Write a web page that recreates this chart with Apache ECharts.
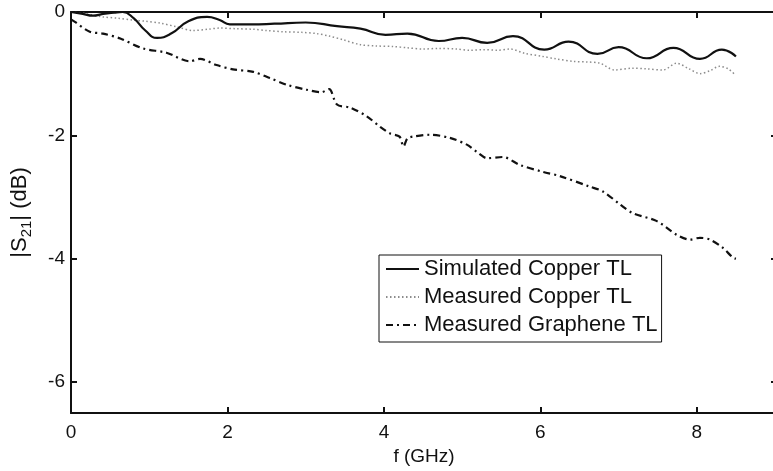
<!DOCTYPE html>
<html>
<head>
<meta charset="utf-8">
<script src="https://cdn.jsdelivr.net/npm/echarts@6/dist/echarts.min.js"></script>
<style>
  html, body { margin: 0; padding: 0; background: #ffffff; }
  #chart { width: 773px; height: 471px; }
</style>
</head>
<body>
<div id="chart"></div>
<script>
// Transmission |S21| versus frequency for the copper and graphene lines

const seriesNames = ['Simulated Copper TL', 'Measured Copper TL', 'Measured Graphene TL'];

// Simulated copper line
const simFreq = [0, 0.15, 0.28, 0.41, 0.55, 0.66, 0.8, 0.95, 1.1, 1.28, 1.5, 1.74, 1.9, 2.03, 2.3, 2.6, 3.0, 3.4, 3.7, 4.02, 4.3, 4.7, 5.0, 5.32, 5.65, 6.05, 6.36, 6.73, 7.0, 7.36, 7.7, 8.04, 8.32, 8.5];
const simS21  = [0, -0.03, -0.06, -0.03, -0.01, 0, -0.1, -0.3, -0.42, -0.35, -0.15, -0.08, -0.13, -0.2, -0.2, -0.19, -0.17, -0.23, -0.27, -0.37, -0.35, -0.47, -0.42, -0.5, -0.39, -0.61, -0.48, -0.68, -0.57, -0.75, -0.58, -0.76, -0.61, -0.72];

// Measured copper line
const cuFreq = [0, 0.2, 0.41, 0.6, 0.79, 0.95, 1.14, 1.35, 1.56, 1.75, 1.9, 2.1, 2.33, 2.5, 2.71, 2.95, 3.14, 3.3, 3.48, 3.7, 3.9, 4.12, 4.3, 4.5, 4.7, 4.93, 5.1, 5.27, 5.45, 5.61, 5.8, 6.03, 6.2, 6.42, 6.6, 6.76, 6.95, 7.18, 7.35, 7.57, 7.74, 7.9, 8.04, 8.17, 8.29, 8.4, 8.49];
const cuS21  = [0, -0.03, -0.08, -0.1, -0.13, -0.15, -0.18, -0.24, -0.3, -0.28, -0.26, -0.27, -0.28, -0.3, -0.32, -0.33, -0.35, -0.39, -0.45, -0.53, -0.55, -0.56, -0.58, -0.6, -0.59, -0.6, -0.62, -0.61, -0.62, -0.6, -0.67, -0.72, -0.76, -0.8, -0.81, -0.83, -0.94, -0.91, -0.92, -0.94, -0.83, -0.92, -1.0, -0.95, -0.88, -0.92, -1.02];

// Measured graphene line
const grFreq = [0, 0.05, 0.24, 0.41, 0.63, 0.92, 1.22, 1.52, 1.65, 1.86, 2.07, 2.33, 2.54, 2.76, 3.01, 3.2, 3.3, 3.4, 3.57, 3.78, 3.95, 4.08, 4.2, 4.25, 4.3, 4.37, 4.59, 4.84, 5.06, 5.2, 5.32, 5.52, 5.74, 6.03, 6.25, 6.63, 6.8, 7.02, 7.18, 7.49, 7.74, 7.91, 8.04, 8.17, 8.33, 8.46, 8.5];
const grS21  = [-0.12, -0.16, -0.32, -0.35, -0.43, -0.59, -0.66, -0.8, -0.76, -0.86, -0.93, -0.97, -1.07, -1.18, -1.26, -1.3, -1.25, -1.5, -1.55, -1.69, -1.86, -1.97, -2.02, -2.18, -2.05, -2.02, -1.99, -2.04, -2.15, -2.28, -2.37, -2.35, -2.48, -2.59, -2.66, -2.83, -2.91, -3.12, -3.26, -3.39, -3.61, -3.69, -3.66, -3.69, -3.82, -3.98, -4.0];

const xTicks = [0, 2, 4, 6, 8];
const yTicks = [0, -2, -4, -6];

function pairs(xs, ys) {
  return xs.map((x, i) => [x, ys[i]]);
}

const FONT = 'Liberation Sans, Arial, Helvetica, sans-serif';
const axisLineStyle = { color: '#111', width: 2 };

const chart = echarts.init(document.getElementById('chart'), null, { renderer: 'canvas' });

chart.setOption({
  animation: false,
  backgroundColor: '#ffffff',
  textStyle: { fontFamily: FONT },
  grid: { left: 71, top: 12, width: 706, height: 401, containLabel: false, outerBoundsMode: 'none' },
  xAxis: [
    {
      type: 'value', min: 0, max: 9.025, position: 'bottom',
      name: 'f (GHz)', nameLocation: 'middle', nameGap: 30,
      nameTextStyle: { fontSize: 19, color: '#111', fontFamily: FONT },
      axisLine: { show: true, onZero: false, lineStyle: axisLineStyle },
      axisTick: { show: true, inside: true, length: 6, lineStyle: axisLineStyle, customValues: xTicks },
      axisLabel: { fontSize: 19, color: '#111', margin: 10, fontFamily: FONT, customValues: xTicks },
      splitLine: { show: false }
    },
    {
      type: 'value', min: 0, max: 9.025, position: 'top',
      axisLine: { show: true, onZero: false, lineStyle: axisLineStyle },
      axisTick: { show: true, inside: true, length: 6, lineStyle: axisLineStyle, customValues: xTicks },
      axisLabel: { show: false },
      splitLine: { show: false }
    }
  ],
  yAxis: [
    {
      type: 'value', min: -6.5, max: 0, position: 'left',
      name: '|S{sub|21}| (dB)', nameLocation: 'middle', nameGap: 37, nameRotate: 90,
      nameTextStyle: {
        fontSize: 22, color: '#111', fontFamily: FONT,
        rich: { sub: { fontSize: 15, color: '#111', fontFamily: FONT, verticalAlign: 'bottom', padding: [13, 0, 0, 0] } }
      },
      axisLine: { show: true, onZero: false, lineStyle: axisLineStyle },
      axisTick: { show: true, inside: true, length: 6, lineStyle: axisLineStyle, customValues: yTicks },
      axisLabel: { fontSize: 19, color: '#111', margin: 6, fontFamily: FONT, customValues: yTicks },
      splitLine: { show: false }
    },
    {
      type: 'value', min: -6.5, max: 0, position: 'right',
      axisLine: { show: true, onZero: false, lineStyle: axisLineStyle },
      axisTick: { show: true, inside: true, length: 6, lineStyle: axisLineStyle, customValues: yTicks },
      axisLabel: { show: false },
      splitLine: { show: false }
    }
  ],
  legend: {
    left: 379, top: 255, orient: 'vertical',
    data: seriesNames,
    backgroundColor: '#ffffff',
    borderColor: '#111', borderWidth: 1, borderRadius: 0,
    padding: [3, 4, 6, 6],
    itemWidth: 33, itemHeight: 22, itemGap: 6, itemTextGap: 4,
    itemStyle: { opacity: 0 },
    textStyle: { fontSize: 22, color: '#111', fontFamily: FONT }
  },
  series: [
    {
      name: seriesNames[1], type: 'line', data: pairs(cuFreq, cuS21),
      showSymbol: false, symbol: 'none', smooth: 0.3, z: 2,
      lineStyle: { color: '#8c8c8c', width: 1.5, type: [1.5, 2.5] },
      itemStyle: { color: '#8c8c8c' }
    },
    {
      name: seriesNames[0], type: 'line', data: pairs(simFreq, simS21),
      showSymbol: false, symbol: 'none', smooth: 0.5, z: 3,
      lineStyle: { color: '#111', width: 2.2, type: 'solid' },
      itemStyle: { color: '#111' }
    },
    {
      name: seriesNames[2], type: 'line', data: pairs(grFreq, grS21),
      showSymbol: false, symbol: 'none', smooth: 0.3, z: 3,
      lineStyle: { color: '#111', width: 2.2, type: [7, 4, 2, 4] },
      itemStyle: { color: '#111' }
    }
  ]
});
</script>
</body>
</html>
